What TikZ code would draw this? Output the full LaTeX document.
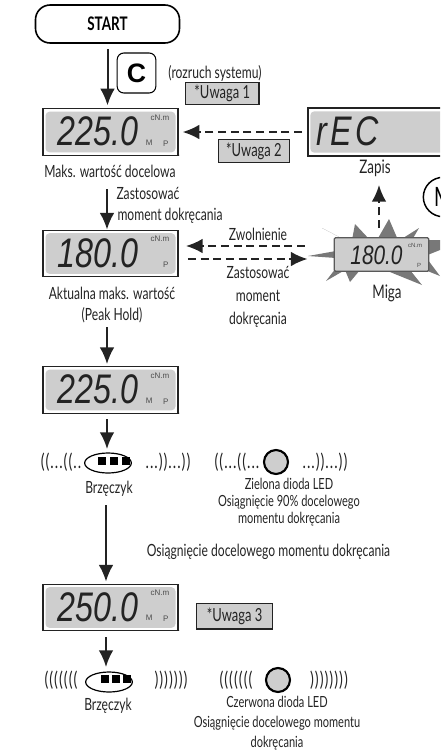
\documentclass[tikz,border=0pt]{standalone}
\usepackage{fontspec}
\usetikzlibrary{arrows.meta,shapes.geometric}
\setmainfont[FakeStretch=0.72]{Lato}
\newfontfamily\lcdfont[FakeStretch=0.78]{Liberation Sans}
\newfontfamily\lcdsmall{Liberation Sans}
\definecolor{lcdgray}{RGB}{206,206,206}
\definecolor{spikegray}{RGB}{120,120,120}
\definecolor{inkgray}{RGB}{35,35,35}
\tikzset{every picture/.style={line width=0.75pt}}
\tikzset{
  flow/.style={line width=1.5pt,draw=inkgray,-{Latex[length=12.5pt,width=11pt]}},
  dashflow/.style={flow,dash pattern={on 6pt off 3.5pt}},
  lbl/.style={inner sep=0.75pt,align=center,text=inkgray,font=\fontsize{12.6}{15}\selectfont},
  wave/.style={inner sep=0pt,text=inkgray,font=\fontsize{15}{15}\selectfont\addfontfeature{LetterSpace=5}},
  uwaga/.style={draw=inkgray,line width=0.9pt,fill=lcdgray,anchor=north west,inner sep=1.5pt,text=inkgray,font=\fontsize{13.5}{15}\selectfont},
  frame/.style={draw=inkgray,line width=0.9pt,fill=white,minimum width=101.25pt,minimum height=35pt,inner sep=0pt},
  glass/.style={fill=lcdgray,rounded corners=3pt,minimum width=97.5pt,minimum height=30.5pt,inner sep=0pt},
  digits/.style={inner sep=0pt,anchor=east,text=inkgray,font=\lcdfont\itshape\fontsize{31}{31}\selectfont},
  tiny/.style={inner sep=0pt,text=black!70,font=\lcdsmall\fontsize{6}{6}\selectfont},
  led/.style={circle,draw=black,line width=1.6pt,fill=lcdgray,minimum size=18pt,inner sep=0pt},
  buzzer/.style={ellipse,draw=black,line width=0.9pt,minimum width=35pt,minimum height=15pt,inner sep=0pt},
  segbar/.style={line width=2pt,draw=black},
  cell/.style={fill=black,minimum width=6.5pt,minimum height=6pt,inner sep=0pt},
  spike/.style={fill=spikegray,draw=none}
}
% #1 name, #2 x, #3 y, #4 value
\newcommand{\lcdpanel}[4]{
  \node [frame] (#1) at (#2,#3) {};
  \node [glass] (#1g) at (#1) {};
  \node [digits] (#1v) at ([xshift=21pt,yshift=-0.5pt]#1) {#4};
  \node [tiny] (#1u) at ([xshift=37pt,yshift=-11pt]#1) {cN.m};
  \node [tiny] (#1p) at ([xshift=41.5pt,yshift=8.5pt]#1) {P};
}
\newcommand{\lcdmark}[1]{
  \node [tiny] (#1m) at ([xshift=29pt,yshift=8pt]#1) {M};
  \draw [segbar] ([xshift=34.8pt,yshift=11.5pt]#1) -- ([xshift=35.6pt,yshift=5pt]#1);
}
\begin{document}
\begin{tikzpicture}[x=0.75pt,y=0.75pt,yscale=-1,xscale=1]
\useasboundingbox (0,0) rectangle (440,754);
\clip (0,0) rectangle (440,754);

% Start
\node [draw=black,line width=1.2pt,rounded corners=11pt,minimum width=108pt,minimum height=28.5pt,font=\bfseries\fontsize{14}{16}\selectfont] (start) at (107.5,24) {START};
\node [draw=black,line width=0.8pt,rounded corners=5pt,minimum width=29pt,minimum height=30pt,inner sep=0pt,font=\lcdsmall\bfseries\fontsize{20}{20}\selectfont] (keyc) at (136.5,73) {C};
\node [lbl] (rozruch) at (215,73) {(rozruch systemu)};
\node [uwaga,minimum width=55pt,minimum height=16.5pt] (uwagaA) at (185,82) {*Uwaga 1\hspace{6pt}};

% Displays
\lcdpanel{dispA}{110.5}{132}{225.0}
\lcdmark{dispA}
\lcdpanel{dispB}{110.5}{253.5}{180.0}
\lcdpanel{dispC}{110.5}{390}{225.0}
\lcdmark{dispC}
\lcdpanel{dispD}{110.5}{607.5}{250.0}
\lcdmark{dispD}

% Rec display
\node [draw=inkgray,line width=0.9pt,fill=white,minimum width=121.5pt,minimum height=36pt,inner sep=0pt] (rec) at (389,132) {};
\node [fill=lcdgray,rounded corners=3pt,minimum width=118pt,minimum height=31pt,inner sep=0pt] (recg) at (rec) {};
\node [inner sep=0pt,anchor=west,text=inkgray,font=\lcdfont\itshape\fontsize{31}{31}\selectfont\addfontfeature{LetterSpace=8}] (recv) at (316,131) {rEC};
\node [uwaga,minimum width=53pt,minimum height=17pt] (uwagaB) at (218,139) {*Uwaga 2\hspace{3pt}};
\node [lbl,font=\fontsize{14}{16}\selectfont] (zapis) at (375,168) {Zapis};

% Blink display
\fill [spike] (322,228) -- (345,240) -- (352,240) -- (355,224) -- (370,240) -- (377,240) -- (389,219) -- (398,240) -- (400,240) -- (419,228) -- (412,240) -- (440,240) -- (440,250) -- (425,256) -- (440,276) -- (425,270) -- (410,270) -- (422,285) -- (385,270) -- (360,270) -- (350,282) -- (345,270) -- (326,281) -- (336,268) -- (336,258) -- (308,256) -- (336,251) -- (345,240) -- cycle;
\node [draw=black!65,line width=0.9pt,fill=lcdgray,rounded corners=1pt,minimum width=71pt,minimum height=25pt,inner sep=0pt] (miga) at (381.5,254.5) {};
\node [inner sep=0pt,anchor=east,text=inkgray,font=\lcdfont\itshape\fontsize{20}{20}\selectfont] (migav) at (403,255) {180.0};
\node [tiny,font=\lcdsmall\fontsize{4.5}{4.5}\selectfont] (migau) at (415,245) {cN.m};
\node [tiny,font=\lcdsmall\fontsize{4.5}{4.5}\selectfont] (migap) at (419,265) {P};
\node [lbl,font=\fontsize{14}{16}\selectfont] (migat) at (387,293) {Miga};
\node [circle,draw=black,line width=1.1pt,minimum size=29.5pt,inner sep=0pt,font=\fontsize{20}{20}\selectfont] (keym) at (443,197) {M};

% Connectors
\coordinate (holdA) at (107,189);
\coordinate (holdB) at (107,327);
\coordinate (holdC) at (107,419);
\coordinate (holdD) at (106,505);
\coordinate (holdE) at (106,637);
\draw [flow,shorten <=4pt,shorten >=2pt] (start.south) -- (start.south |- dispA.north);
\draw [flow] (holdA) -- (holdA |- dispB.north);
\draw [flow,shorten >=1.5pt] (holdB) -- (holdB |- dispC.north);
\draw [flow] (holdC) -- (107,449);
\draw [flow,shorten >=1.5pt] (holdD) -- (holdD |- dispD.north);
\draw [flow] (holdE) -- (106,667);
\draw [dashflow,shorten <=4pt,shorten >=3pt] (rec.west) -- (dispA.east);
\draw [dashflow,shorten <=21.5pt,shorten >=5.5pt] (miga.west |- 0,246) -- (dispB.east |- 0,246);
\draw [dashflow,shorten <=7pt,shorten >=19.5pt] (dispB.east |- 0,259) -- (miga.west |- 0,259);
\draw [dashflow] (379,228) -- (379,185);

% Text Node
\node [lbl] (capA) at (110,171) {Maks. wartość docelowa};
\node [lbl,anchor=west] (applyA) at (115,193) {Zastosować};
\node [lbl,anchor=west] (applyB) at (116,216) {moment dokręcania};
\node [lbl] (capB) at (112,293) {Aktualna maks. wartość};
\node [lbl] (capC) at (112,315) {(Peak Hold)};
\node [lbl] (zwol) at (258,234) {Zwolnienie};
\node [lbl,font=\fontsize{12.6}{17}\selectfont] (apply) at (258,297) {Zastosować\\moment\\dokręcania};

% Buzzer, first
\node [buzzer] (buzzA) at (108,463) {};
\node [cell] (cellA) at (102,461) {};
\node [cell] (cellB) at (114,461) {};
\node [cell] (cellC) at (126,461) {};
\node [wave] (waveA) at (61,462) {((...((..};
\node [wave] (waveB) at (168,462) {...))...))};
\node [lbl] (buzzAt) at (109,489) {Brzęczyk};
\node [led] (ledA) at (276,462) {};
\node [wave] (waveC) at (237,462) {((...((...};
\node [wave] (waveD) at (325,462) {...))...))};
\node [lbl,font=\fontsize{11.5}{12.8}\selectfont] (ledAt) at (289,502) {Zielona dioda LED\\Osiągnięcie 90\% docelowego\\momentu dokręcania};
\node [lbl] (reach) at (268.5,552) {Osiągnięcie docelowego momentu dokręcania};
\node [uwaga,minimum width=57pt,minimum height=19pt] (uwagaC) at (196,603) {*Uwaga 3\hspace{12pt}};

% Buzzer, second
\node [buzzer] (buzzB) at (109,682) {};
\node [cell] (cellD) at (105,678.5) {};
\node [cell] (cellE) at (116,678.5) {};
\node [cell] (cellF) at (127,678.5) {};
\node [wave] (waveE) at (61,680) {(((((((};
\node [wave] (waveF) at (171,680) {)))))))};
\node [lbl] (buzzBt) at (108,706) {Brzęczyk};
\node [led] (ledB) at (278,680) {};
\node [wave] (waveG) at (236,680) {(((((((};
\node [wave] (waveH) at (329,680) {))))))))};
\node [lbl,font=\fontsize{11.5}{15}\selectfont] (ledBt) at (277,723) {Czerwona dioda LED\\Osiągnięcie docelowego momentu\\dokręcania};
\end{tikzpicture}
\end{document}
